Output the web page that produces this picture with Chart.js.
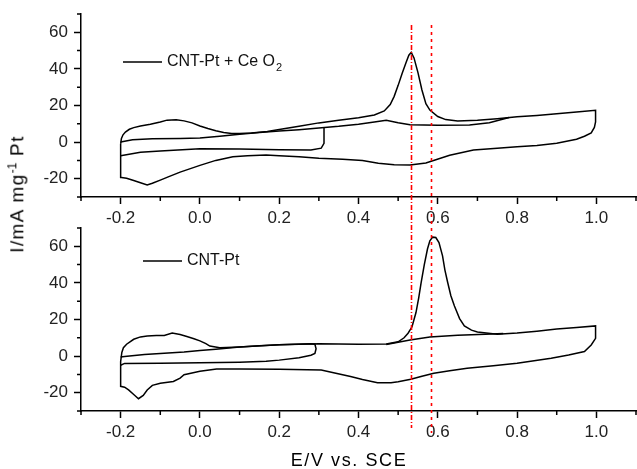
<!DOCTYPE html>
<html>
<head>
<meta charset="utf-8">
<script src="https://cdn.jsdelivr.net/npm/chart.js@4.4.0/dist/chart.umd.min.js"></script>
<style>
  html, body { margin: 0; padding: 0; background: #fff; }
  #wrap { position: relative; width: 637px; height: 469px; overflow: hidden; font-family: "Liberation Sans", Arial, sans-serif; color: #000; }
  canvas { position: absolute; left: 0; }
  #topChart { top: 0; }
  #bottomChart { top: 220px; }
  .title { position: absolute; white-space: nowrap; font-size: 18px; }
  #yTitle { left: 17px; top: 194px; font-size: 19px; transform: translate(-50%, -50%) rotate(-90deg); letter-spacing: 1.4px; }
  #xTitle { left: 349px; top: 460px; transform: translate(-50%, -50%); letter-spacing: 1.6px; }
  sup { font-size: 12px; letter-spacing: 0; }
</style>
</head>
<body>
<div id="wrap">
  <canvas id="topChart" width="637" height="240"></canvas>
  <canvas id="bottomChart" width="637" height="249"></canvas>
  <div class="title" id="yTitle">I/mA mg<sup>-1</sup> Pt</div>
  <div class="title" id="xTitle">E/V vs. SCE</div>
</div>
<script>
// Eixos
const xMajor = [-0.2, 0.0, 0.2, 0.4, 0.6, 0.8, 1.0];
const xMinor = [-0.3, -0.1, 0.1, 0.3, 0.5, 0.7, 0.9, 1.1];
const yMajor = [-20, 0, 20, 40, 60];
const yMinor = [-30, -10, 10, 30, 50, 70];

// Linhas vermelhas (picos)
const peakMarks = [0.533, 0.583];

// Painel superior: CNT-Pt + CeO2 (ciclo externo)
const topOuterE = [-0.2, -0.198, -0.194, -0.188, -0.178, -0.167, -0.15, -0.125, -0.1, -0.083, -0.06, -0.04, -0.02, 0.0, 0.02, 0.04, 0.06, 0.08, 0.1, 0.13, 0.17, 0.2, 0.25, 0.3, 0.35, 0.4, 0.44, 0.465, 0.48, 0.49, 0.5, 0.51, 0.52, 0.527, 0.533, 0.54, 0.55, 0.56, 0.57, 0.58, 0.6, 0.62, 0.65, 0.7, 0.75, 0.8, 0.85, 0.9, 0.95, 0.998,
  0.998, 0.995, 0.987, 0.97, 0.95, 0.9, 0.85, 0.8, 0.75, 0.69, 0.63, 0.57, 0.53, 0.49, 0.45, 0.41, 0.36, 0.3, 0.25, 0.2, 0.167, 0.12, 0.083, 0.04, 0.0, -0.05, -0.08, -0.1, -0.12, -0.133, -0.15, -0.167, -0.185, -0.198, -0.2, -0.2];
const topOuterI = [-1, 2, 4, 5.5, 7, 7.9, 8.8, 9.7, 11, 12, 12.2, 11.6, 10.5, 8.8, 7.4, 6.2, 5.3, 4.7, 4.7, 5.0, 5.8, 6.9, 8.6, 10.5, 12, 13.3, 14.8, 17, 20.5, 25, 31, 37.5, 43.5, 47.5, 49, 46, 38, 28.5, 21, 17.5, 14, 12.3, 11.5, 12, 12.8, 13.8, 14.6, 15.5, 16.4, 17.4,
  11, 8, 5, 3.2, 1.6, -0.6, -1.8, -2.6, -3.4, -4.3, -7.2, -11.4, -12.5, -12.4, -11.5, -10, -9.4, -8.8, -8, -7.4, -7.1, -7.5, -8, -10, -12.7, -16.4, -19, -20.8, -22.5, -23.4, -22.2, -21, -19.8, -19.4, -19.4, -1];

// Painel superior: ciclo interno
const topInnerE = [-0.2, -0.17, -0.12, -0.05, 0.0, 0.05, 0.1, 0.15, 0.2, 0.25, 0.3, 0.35, 0.4, 0.44, 0.47, 0.5, 0.53, 0.6, 0.68, 0.73, 0.78];
const topInnerI = [0, 1.3, 1.8, 2.0, 2.2, 3.2, 4.3, 5.2, 6.0, 6.8, 7.7, 8.6, 9.8, 11, 11.9, 10.6, 9.5, 9.2, 9.4, 10.6, 13.4];
const topTurnE = [0.313, 0.313, 0.306, 0.28, 0.2, 0.1, 0.0, -0.1, -0.15, -0.2];
const topTurnI = [7.8, -0.7, -3.3, -4.3, -4.2, -3.8, -3.7, -4.8, -5.5, -7.5];

// Painel inferior: CNT-Pt (ciclo externo)
const botOuterE = [-0.2, -0.197, -0.193, -0.185, -0.167, -0.15, -0.133, -0.11, -0.09, -0.07, -0.05, -0.033, -0.015, 0.0, 0.015, 0.025, 0.05, 0.1, 0.15, 0.2, 0.25, 0.3, 0.35, 0.4, 0.47, 0.5, 0.515, 0.525, 0.535, 0.545, 0.552, 0.558, 0.566, 0.574, 0.58, 0.587, 0.595, 0.603, 0.612, 0.618, 0.625, 0.633, 0.642, 0.655, 0.667, 0.685, 0.7, 0.75, 0.8, 0.85, 0.9, 0.95, 0.998,
  0.998, 0.987, 0.97, 0.93, 0.886, 0.8, 0.74, 0.674, 0.63, 0.59, 0.56, 0.532, 0.5, 0.482, 0.448, 0.41, 0.38, 0.34, 0.306, 0.2, 0.1, 0.042, 0.0, -0.02, -0.04, -0.05, -0.067, -0.1, -0.12, -0.133, -0.143, -0.155, -0.167, -0.18, -0.19, -0.2, -0.2];
const botOuterI = [-3, 2, 4.6, 6.5, 9.2, 10.5, 11, 11.2, 11.3, 12.6, 11.8, 10.7, 9.5, 8.3, 6.8, 5.5, 4.6, 5, 5.6, 6.2, 6.5, 6.8, 6.6, 6.5, 6.6, 7.8, 10, 12.5, 16, 23.8, 32, 40.2, 50, 58.5, 63, 65, 64.8, 62, 54.8, 47, 40.2, 33, 27.4, 20.5, 16.5, 14.2, 13.2, 11.9, 12.6, 13.6, 14.8, 15.6, 16.5,
  9.7, 6.1, 2.5, 0.6, -1.2, -3.9, -5.3, -6.6, -8, -9.4, -11, -12.7, -14, -14.5, -14.5, -12.8, -11.2, -9.2, -7.6, -7.2, -7, -7, -8.3, -9.2, -10.2, -12, -13.9, -14.8, -16, -18.5, -21.5, -23.3, -21, -18.5, -17, -16.5, -3];

// Painel inferior: ciclo interno e retorno
const botInnerE = [-0.2, -0.19, -0.14, -0.09, -0.04, 0.0, 0.04, 0.08, 0.1, 0.2, 0.28, 0.29, 0.293, 0.29, 0.28, 0.25, 0.2, 0.167, 0.1, 0.0, -0.1, -0.19, -0.2];
const botInnerI = [-0.5, -0.2, 0.9, 1.5, 2.2, 3.0, 3.8, 4.6, 5.0, 6.2, 6.7, 6.5, 4, 1.5, 0.5, -0.9, -2.2, -2.8, -3.3, -3.7, -3.9, -4, -5];
const botReturnE = [0.47, 0.53, 0.58, 0.65, 0.72, 0.765];
const botReturnI = [6.3, 8.8, 10.4, 11.4, 12.0, 12.4];

const fonte = '"Liberation Sans", Arial, sans-serif';

function pontos(E, I) {
    return E.map((e, i) => ({ x: e, y: I[i] }));
}

function serie(E, I) {
    return {
        data: pontos(E, I),
        showLine: true,
        borderColor: '#000',
        borderWidth: 1.5,
        pointRadius: 0,
        tension: 0,
        fill: false,
    };
}

// Marcas menores dos eixos, legenda e linhas vermelhas
const extras = {
    id: 'extras',
    afterDraw(chart, args, opts) {
        const { ctx, chartArea, scales } = chart;
        ctx.save();
        ctx.strokeStyle = '#000';
        ctx.lineWidth = 1.5;
        ctx.beginPath();
        xMinor.forEach(v => {
            const px = scales.x.getPixelForValue(v);
            ctx.moveTo(px, chartArea.bottom);
            ctx.lineTo(px, chartArea.bottom + 4);
        });
        yMinor.forEach(v => {
            const py = scales.y.getPixelForValue(v);
            ctx.moveTo(chartArea.left, py);
            ctx.lineTo(chartArea.left - 4, py);
        });
        ctx.stroke();

        // legenda
        ctx.beginPath();
        ctx.moveTo(opts.x1, opts.y);
        ctx.lineTo(opts.x2, opts.y);
        ctx.stroke();
        ctx.fillStyle = '#111';
        ctx.font = '16px ' + fonte;
        ctx.textBaseline = 'middle';
        ctx.fillText(opts.text, opts.tx, opts.y);
        if (opts.sub) {
            const w = ctx.measureText(opts.text).width;
            ctx.font = '11px ' + fonte;
            ctx.fillText(opts.sub, opts.tx + w + 1, opts.y + 6);
        }

        // linhas vermelhas
        ctx.strokeStyle = '#ff0000';
        ctx.lineWidth = 1.6;
        const dashes = [[5, 2, 1, 2], [3, 4]];
        peakMarks.forEach((v, i) => {
            const px = Math.round(scales.x.getPixelForValue(v)) + 0.5;
            ctx.setLineDash(dashes[i]);
            ctx.beginPath();
            ctx.moveTo(px, opts.top);
            ctx.lineTo(px, opts.bottom[i]);
            ctx.stroke();
        });
        ctx.restore();
    }
};

function opcoes(padTop, xHeight, legenda) {
    return {
        responsive: false,
        animation: false,
        layout: { padding: { top: padTop, right: 1, left: 0, bottom: 0 } },
        plugins: {
            legend: { display: false },
            tooltip: { enabled: false },
            extras: legenda,
        },
        scales: {
            x: {
                type: 'linear',
                min: -0.3,
                max: 1.1,
                afterBuildTicks: s => { s.ticks = xMajor.map(v => ({ value: v })); },
                afterFit: s => { s.height = xHeight; s.paddingLeft = 0; s.paddingRight = 0; },
                grid: { drawOnChartArea: false, tickLength: 7, tickColor: '#000', tickWidth: 1.5 },
                border: { color: '#000', width: 1.5 },
                ticks: {
                    color: '#222', padding: 4, maxRotation: 0, autoSkip: false,
                    font: { family: fonte, size: 17 },
                    callback: v => Number(v).toFixed(1),
                },
            },
            y: {
                min: -30,
                max: 70,
                afterBuildTicks: s => { s.ticks = yMajor.map(v => ({ value: v })); },
                afterFit: s => { s.width = 81; s.paddingTop = 0; s.paddingBottom = 0; },
                grid: { drawOnChartArea: false, tickLength: 7, tickColor: '#000', tickWidth: 1.5 },
                border: { color: '#000', width: 1.5 },
                ticks: {
                    color: '#222', padding: 6,
                    font: { family: fonte, size: 17 },
                    callback: v => v,
                },
            },
        },
    };
}

window.onload = function () {
    new Chart(document.getElementById('topChart').getContext('2d'), {
        type: 'scatter',
        data: {
            datasets: [
                serie(topOuterE, topOuterI),
                serie(topInnerE, topInnerI),
                serie(topTurnE, topTurnI),
            ],
        },
        options: opcoes(14, 43, { text: 'CNT-Pt + Ce O', sub: '2', x1: 123, x2: 162, y: 62, tx: 167, top: 25, bottom: [235, 235] }),
        plugins: [extras],
    });

    new Chart(document.getElementById('bottomChart').getContext('2d'), {
        type: 'scatter',
        data: {
            datasets: [
                serie(botOuterE, botOuterI),
                serie(botInnerE, botInnerI),
                serie(botReturnE, botReturnI),
            ],
        },
        options: opcoes(8, 58, { text: 'CNT-Pt', x1: 143, x2: 182, y: 41, tx: 187, top: 15, bottom: [208, 213] }),
        plugins: [extras],
    });
};
</script>
</body>
</html>
